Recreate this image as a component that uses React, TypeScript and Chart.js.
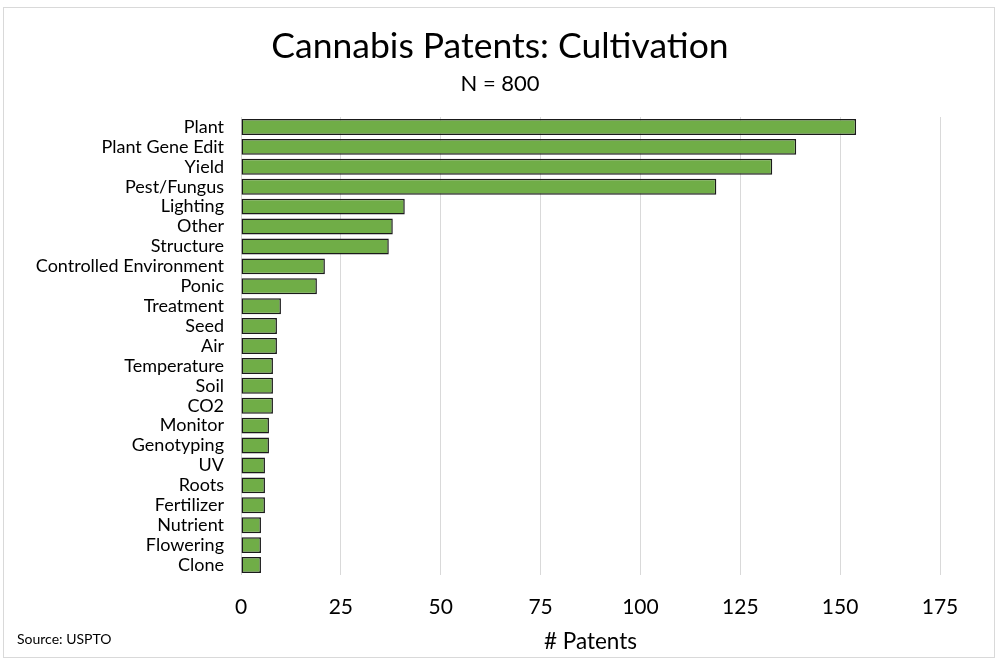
import React, { useEffect, useRef } from "react";
import { Chart, registerables } from "chart.js";

Chart.register(...registerables);

const categories = [
  "Plant", "Plant Gene Edit", "Yield", "Pest/Fungus", "Lighting", "Other", "Structure",
  "Controlled Environment", "Ponic", "Treatment", "Seed", "Air", "Temperature", "Soil",
  "CO2", "Monitor", "Genotyping", "UV", "Roots", "Fertilizer", "Nutrient", "Flowering", "Clone",
];
const patents = [154, 139, 133, 119, 41, 38, 37, 21, 19, 10, 9, 9, 8, 8, 8, 7, 7, 6, 6, 6, 5, 5, 5];
const xTicks = [0, 25, 50, 75, 100, 125, 150, 175];

const FONT = "Lato, 'Open Sans', sans-serif";

const framePlugin = {
  id: "frame",
  beforeDraw(chart: any) {
    const ctx = chart.ctx;
    ctx.save();
    ctx.fillStyle = "#ffffff";
    ctx.fillRect(0, 0, chart.width, chart.height);
    ctx.strokeStyle = "#d9d9d9";
    ctx.lineWidth = 1;
    ctx.strokeRect(3.5, 7.5, 991, 650);
    ctx.restore();
  },
  afterDraw(chart: any) {
    const ctx = chart.ctx;
    ctx.save();
    ctx.fillStyle = "#000";
    ctx.font = `14px ${FONT}`;
    ctx.textBaseline = "middle";
    ctx.textAlign = "left";
    ctx.fillText("Source: USPTO", 17, 639);
    ctx.restore();
  },
};

export default function App() {
  const ref = useRef<HTMLCanvasElement>(null);
  useEffect(() => {
    if (!ref.current) return;
    const chart = new Chart(ref.current, {
      type: "bar",
      data: {
        labels: categories,
        datasets: [
          {
            data: patents,
            backgroundColor: "#70AD47",
            borderColor: "#1a1a1a",
            borderWidth: 1.5,
            borderSkipped: false,
            barPercentage: 0.8,
            categoryPercentage: 1,
          },
        ],
      },
      options: {
        indexAxis: "y",
        responsive: false,
        animation: false,
        devicePixelRatio: 1,
        layout: { padding: { top: 0, left: 30, right: 30, bottom: 0 } },
        plugins: {
          legend: { display: false },
          tooltip: { enabled: false },
          title: {
            display: true,
            text: "Cannabis Patents: Cultivation",
            color: "#000",
            font: { family: FONT, size: 35.5, weight: "normal" },
            padding: { top: 25, bottom: 0 },
          },
          subtitle: {
            display: true,
            text: "N = 800",
            color: "#000",
            font: { family: FONT, size: 22, weight: "normal" },
            padding: { top: 3, bottom: 20 },
          },
        },
        scales: {
          x: {
            min: 0,
            max: 175,
            afterFit(scale: any) {
              scale.height = 90;
            },
            afterBuildTicks(scale: any) {
              scale.ticks = xTicks.map((v) => ({ value: v }));
            },
            grid: { color: "#d9d9d9", lineWidth: 1, drawTicks: false },
            border: { display: false },
            ticks: {
              color: "#000",
              padding: 20,
              font: { family: FONT, size: 21 },
            },
            title: {
              display: true,
              text: "# Patents",
              color: "#000",
              font: { family: FONT, size: 22.5 },
              padding: { top: 0, bottom: 10 },
            },
          },
          y: {
            afterFit(scale: any) {
              scale.width = 211;
            },
            grid: { display: false, drawTicks: false },
            border: { display: false },
            ticks: {
              color: "#000",
              padding: 17,
              autoSkip: false,
              font: { family: FONT, size: 18 },
            },
          },
          yRight: {
            type: "category",
            position: "right",
            afterFit(scale: any) {
              scale.width = 30;
            },
            grid: { display: false, drawTicks: false },
            border: { display: false },
            ticks: { display: false },
          },
        },
      },
      plugins: [framePlugin],
    });
    return () => chart.destroy();
  }, []);
  return (
    <div style={{ position: "fixed", left: 0, top: 0, width: 1000, height: 665, background: "#fff" }}>
      <canvas ref={ref} width={1000} height={665} style={{ display: "block" }} />
    </div>
  );
}
